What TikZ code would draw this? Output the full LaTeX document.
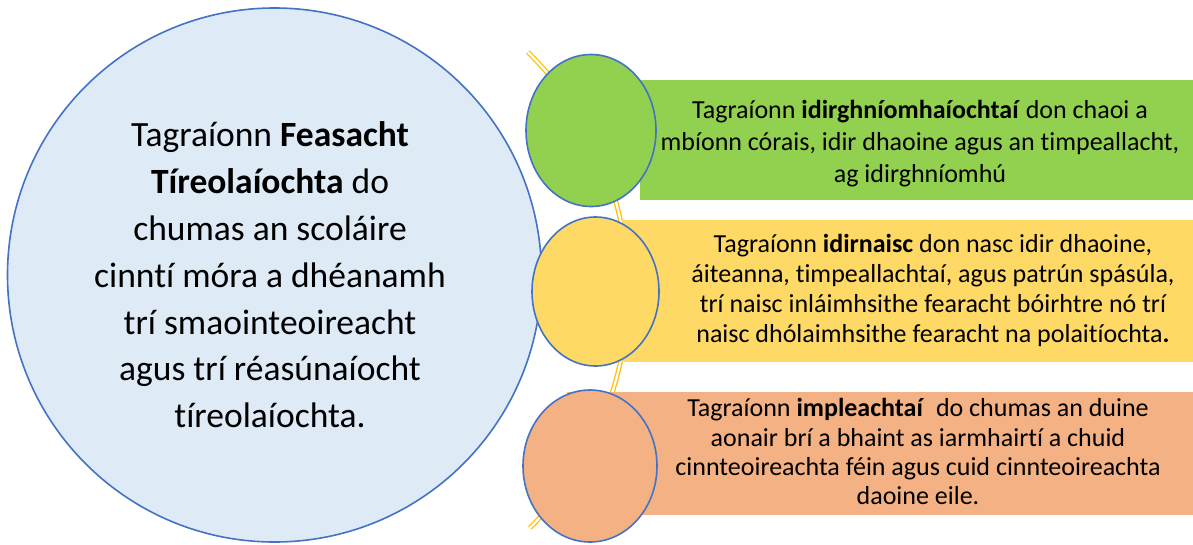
\documentclass[tikz,border=0pt]{standalone}
\usepackage{fontspec}
\setmainfont{Carlito}[Ligatures={NoCommon,NoRare,NoContextual}]
\usetikzlibrary{shapes.geometric}
\definecolor{edgeblue}{HTML}{4472C4}
\definecolor{mainfill}{HTML}{DEEBF7}
\definecolor{greenfill}{HTML}{92D050}
\definecolor{yellowfill}{HTML}{FFD966}
\definecolor{orangefill}{HTML}{F4B183}
\definecolor{arcyellow}{HTML}{FFC000}
\begin{document}
\begin{tikzpicture}[x=1pt,y=-1pt,
  bubble/.style={ellipse, draw=edgeblue, line width=1.6pt, inner sep=0pt},
  band/.style={rectangle, inner sep=0pt, draw=none},
  bigtext/.style={align=center, inner sep=0pt, font=\fontsize{35.5}{46.8}\selectfont},
  sidetext/.style={align=center, inner sep=0pt, font=\fontsize{26}{#1}\selectfont},
  arcline/.style={draw=arcyellow, line width=1.3pt, double=white, double distance=2.2pt}]
\useasboundingbox (0,0) rectangle (1193,544);
\fill[white] (0,0) rectangle (1193,544);
% background arc
\draw[arcline] (293,291) ++(-45.5:335) arc[start angle=-45.5, end angle=45, radius=335];
% bands
\node[band, fill=greenfill, minimum width=553pt, minimum height=120pt] (gband) at (916.5,140) {};
\node[band, fill=yellowfill, minimum width=571pt, minimum height=142pt] (yband) at (907.5,291) {};
\node[band, fill=orangefill, minimum width=626pt, minimum height=123pt] (oband) at (880,453.5) {};
% main circle
\node[circle, draw=edgeblue, line width=1.6pt, fill=mainfill, inner sep=0pt, minimum size=534pt] (main) at (274.5,275) {};
% ellipses
\node[bubble, fill=greenfill, minimum width=130pt, minimum height=152pt] (gell) at (591,130.5) {};
\node[bubble, fill=yellowfill, minimum width=127pt, minimum height=149pt] (yell) at (595.5,291.5) {};
\node[bubble, fill=orangefill, minimum width=134pt, minimum height=152pt] (oell) at (590,466) {};
% texts
\node[bigtext] (maintext) at (270,278) {\strut Tagraíonn \textbf{Feasacht}\\
\strut\textbf{Tíreolaíochta} do\\
\strut chumas an scoláire\\
\strut cinntí móra a dhéanamh\\
\strut trí smaointeoireacht\\
\strut agus trí réasúnaíocht\\
\strut tíreolaíochta.};
\node[sidetext=32] (gtext) at (920,143.6) {\strut Tagraíonn \textbf{idirghníomhaíochtaí} don chaoi a\\
\strut mbíonn córais, idir dhaoine agus an timpeallacht,\\
\strut ag idirghníomhú};
\node[sidetext=29.7] (ytext) at (933,291.6) {\strut Tagraíonn \textbf{idirnaisc} don nasc idir dhaoine,\\
\strut áiteanna, timpeallachtaí, agus patrún spásúla,\\
\strut trí naisc inláimhsithe fearacht bóirhtre nó trí\\
\strut naisc dhólaimhsithe fearacht na polaitíochta\textbf{.}};
\node[sidetext=29.3] (otext) at (918,455) {\strut Tagraíonn \textbf{impleachtaí}\ \ do chumas an duine\\
\strut aonair brí a bhaint as iarmhairtí a chuid\\
\strut cinnteoireachta féin agus cuid cinnteoireachta\\
\strut daoine eile.};
\end{tikzpicture}
\end{document}
